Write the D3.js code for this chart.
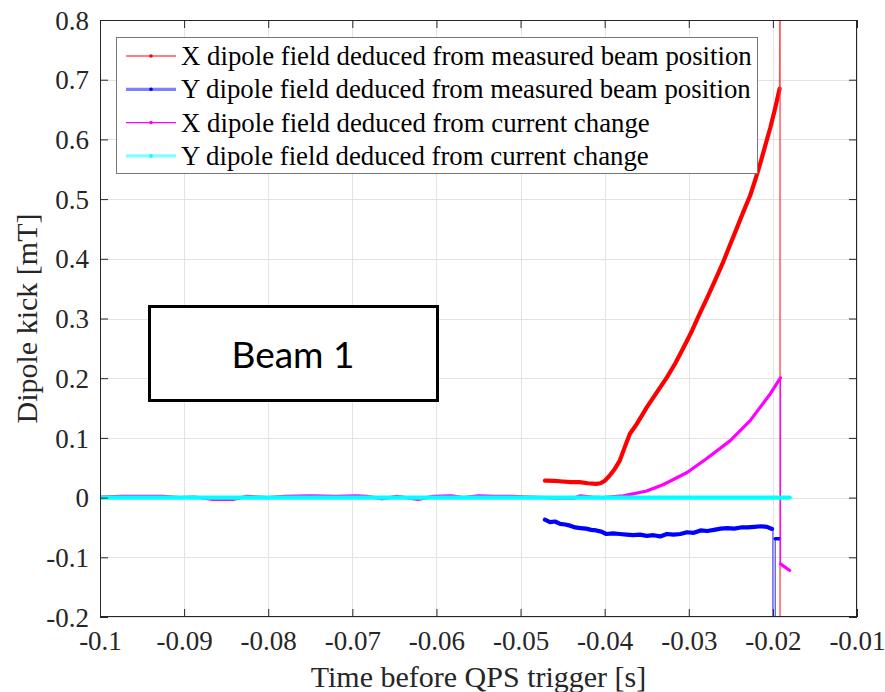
<!DOCTYPE html>
<html>
<head>
<meta charset="utf-8">
<script src="https://cdn.jsdelivr.net/npm/d3@7"></script>
<style>
  html, body { margin: 0; padding: 0; background: #fff; }
  svg { display: block; }
  text { font-family: "Liberation Serif", "Times New Roman", serif; fill: #262626; }
</style>
</head>
<body>
<svg id="chart" width="885" height="692"></svg>
<script>
// ---- axis ticks ----
const xTicks = [-0.1, -0.09, -0.08, -0.07, -0.06, -0.05, -0.04, -0.03, -0.02, -0.01];
const yTicks = [-0.2, -0.1, 0, 0.1, 0.2, 0.3, 0.4, 0.5, 0.6, 0.7, 0.8];

// ---- X dipole field from measured beam position (red) ----
const xBeamT = [-0.0471, -0.0460, -0.0450, -0.0440, -0.0430, -0.0420, -0.0410, -0.0405, -0.0400, -0.0394,
                -0.0388, -0.0382, -0.0376, -0.0370, -0.0362, -0.0356, -0.0350, -0.0340, -0.0326, -0.0316,
                -0.0306, -0.0296, -0.0287, -0.0278, -0.0269, -0.0259, -0.0251, -0.0243, -0.0235, -0.0227,
                -0.0221, -0.0215, -0.0209, -0.0203, -0.0197, -0.0192];
const xBeamV = [0.0285, 0.028, 0.027, 0.026, 0.026, 0.024, 0.023, 0.024, 0.028, 0.037,
                0.048, 0.062, 0.085, 0.107, 0.123, 0.137, 0.151, 0.172, 0.2015, 0.225,
                0.252, 0.280, 0.308, 0.335, 0.363, 0.395, 0.423, 0.451, 0.479, 0.506,
                0.532, 0.560, 0.590, 0.620, 0.654, 0.685];
// final transient of the red trace (goes off scale both ways)
const xBeamJumpT = [-0.0192, -0.01915, -0.01915];
const xBeamJumpV = [0.685, 0.95, -0.35];

// ---- Y dipole field from measured beam position (blue) ----
const yBeamT = [-0.0471, -0.0465, -0.0459, -0.0453, -0.0447, -0.0441, -0.0435, -0.0429, -0.0422, -0.0416,
                -0.0410, -0.0404, -0.0398, -0.0390, -0.0382, -0.0374, -0.0366, -0.0358, -0.0350, -0.0342,
                -0.0334, -0.0326, -0.0318, -0.0310, -0.0302, -0.0294, -0.0286, -0.0278, -0.0270, -0.0262,
                -0.0254, -0.0246, -0.0238, -0.0230, -0.0222, -0.0214, -0.0207, -0.0201];
const yBeamV = [-0.037, -0.041, -0.040, -0.044, -0.045, -0.047, -0.050, -0.051, -0.052, -0.054,
                -0.055, -0.057, -0.061, -0.060, -0.061, -0.062, -0.063, -0.062, -0.064, -0.063,
                -0.065, -0.061, -0.062, -0.061, -0.058, -0.059, -0.055, -0.056, -0.054, -0.052,
                -0.051, -0.052, -0.050, -0.050, -0.049, -0.048, -0.049, -0.0525];
const yBeamJumpT = [-0.0201, -0.0200, -0.0200, -0.01972, -0.01972];
const yBeamJumpV = [-0.0525, -0.0525, -0.35, -0.35, -0.069];
const yBeamTailT = [-0.01972, -0.0192];
const yBeamTailV = [-0.069, -0.069];

// ---- X dipole field from current change (magenta) ----
const xCurT = [-0.1000, -0.0975, -0.0950, -0.0925, -0.0905, -0.0888, -0.0866, -0.0842, -0.0825, -0.0801,
               -0.0780, -0.0750, -0.0720, -0.0695, -0.0683, -0.0664, -0.0647, -0.0622, -0.0604, -0.0582,
               -0.0568, -0.0550, -0.0530, -0.0510, -0.0490, -0.0470, -0.0455, -0.0437, -0.0429, -0.0415,
               -0.0402, -0.0378, -0.0350, -0.0330, -0.0302, -0.0279, -0.0251, -0.0227, -0.0203, -0.0191];
const xCurV = [0.001, 0.002, 0.002, 0.002, 0.000, 0.001, -0.003, -0.003, 0.002, 0.000,
               0.002, 0.003, 0.002, 0.003, 0.002, -0.002, 0.002, -0.003, 0.002, 0.003,
               0.000, 0.003, 0.002, 0.002, 0.001, 0.000, -0.001, -0.001, 0.003, 0.001,
               0.000, 0.003, 0.011, 0.022, 0.042, 0.065, 0.095, 0.129, 0.174, 0.2005];
const xCurJumpT = [-0.0191, -0.0191];
const xCurJumpV = [0.2005, -0.111];
const xCurTailT = [-0.0191, -0.0180];
const xCurTailV = [-0.111, -0.122];

// ---- Y dipole field from current change (cyan) ----
const yCurT = [-0.100, -0.090, -0.080, -0.070, -0.060, -0.050, -0.040, -0.030, -0.020, -0.018];
const yCurV = [0, 0, 0, 0, 0, 0, 0, 0, 0, 0];

const legendLabels = [
  "X dipole field deduced from measured beam position",
  "Y dipole field deduced from measured beam position",
  "X dipole field deduced from current change",
  "Y dipole field deduced from current change"
];
const annotationText = "Beam 1";

// ---- layout ----
const plot = { left: 100, right: 857, top: 20, bottom: 617 };

const svg = d3.select("#chart");
const x = d3.scaleLinear().domain([-0.1, -0.01]).range([plot.left, plot.right]);
const y = d3.scaleLinear().domain([-0.2, 0.8]).range([plot.bottom, plot.top]);

const zip = (t, v) => t.map((d, i) => [d, v[i]]);
const line = d3.line().x(d => x(d[0])).y(d => y(d[1]));

svg.append("defs").append("clipPath").attr("id", "plotClip")
  .append("rect")
  .attr("x", plot.left).attr("y", plot.top)
  .attr("width", plot.right - plot.left).attr("height", plot.bottom - plot.top);

// grid
const grid = svg.append("g").attr("stroke", "#e3e3e3").attr("stroke-width", 1);
grid.selectAll("line.gx").data(xTicks).join("line")
  .attr("x1", d => Math.round(x(d)) + 0.5).attr("x2", d => Math.round(x(d)) + 0.5)
  .attr("y1", plot.top).attr("y2", plot.bottom);
grid.selectAll("line.gy").data(yTicks).join("line")
  .attr("y1", d => Math.round(y(d)) + 0.5).attr("y2", d => Math.round(y(d)) + 0.5)
  .attr("x1", plot.left).attr("x2", plot.right);

// data
const data = svg.append("g").attr("clip-path", "url(#plotClip)").attr("fill", "none")
  .attr("stroke-linejoin", "round").attr("stroke-linecap", "round");

function trace(t, v, color, width, opacity) {
  data.append("path").datum(zip(t, v))
    .attr("d", line).attr("stroke", color).attr("stroke-width", width)
    .attr("stroke-opacity", opacity == null ? 1 : opacity);
}

// red
trace(xBeamT, xBeamV, "#ff0000", 4.2);
trace(xBeamJumpT, xBeamJumpV, "#ff3030", 1.4, 0.85);
// blue
trace(yBeamT, yBeamV, "#0000ff", 4.2);
trace(yBeamJumpT, yBeamJumpV, "#2020ff", 1.2, 0.8);
trace(yBeamTailT, yBeamTailV, "#0000ff", 3.5);
// magenta
trace(xCurT, xCurV, "#ff00ff", 3.2);
trace(xCurJumpT, xCurJumpV, "#ff00ff", 1.2);
trace(xCurTailT, xCurTailV, "#ff00ff", 3.2);
// cyan
trace(yCurT, yCurV, "#00ffff", 4.2);

// axes box
const axisColor = "#262626";
svg.append("rect")
  .attr("x", plot.left + 0.5).attr("y", plot.top + 0.5)
  .attr("width", plot.right - plot.left - 1).attr("height", plot.bottom - plot.top - 1)
  .attr("fill", "none").attr("stroke", axisColor).attr("stroke-width", 1);

// axes with inward ticks on all four sides
const tickLen = 8;
const fmt = d => String(+d.toFixed(2));
const xAxisB = d3.axisBottom(x).tickValues(xTicks).tickSizeInner(-tickLen).tickSizeOuter(0).tickFormat(fmt);
const xAxisT = d3.axisTop(x).tickValues(xTicks).tickSizeInner(-tickLen).tickSizeOuter(0).tickFormat("");
const yAxisL = d3.axisLeft(y).tickValues(yTicks).tickSizeInner(-tickLen).tickSizeOuter(0).tickFormat(fmt);
const yAxisR = d3.axisRight(y).tickValues(yTicks).tickSizeInner(-tickLen).tickSizeOuter(0).tickFormat("");

function styleAxis(g) {
  g.select(".domain").remove();
  g.selectAll(".tick line").attr("stroke", axisColor);
  g.selectAll(".tick text").attr("fill", axisColor)
    .style("font-family", '"Liberation Serif", "Times New Roman", serif')
    .style("font-size", "27px");
}

svg.append("g").attr("transform", `translate(0,${plot.bottom})`).call(xAxisB).call(styleAxis)
  .selectAll(".tick text").attr("dy", null).attr("y", 33);
svg.append("g").attr("transform", `translate(0,${plot.top})`).call(xAxisT).call(styleAxis);
svg.append("g").attr("transform", `translate(${plot.left},0)`).call(yAxisL).call(styleAxis)
  .selectAll(".tick text").attr("x", -11).attr("dy", "0.34em");
svg.append("g").attr("transform", `translate(${plot.right},0)`).call(yAxisR).call(styleAxis);

// axis titles
svg.append("text")
  .attr("x", (plot.left + plot.right) / 2).attr("y", 687)
  .attr("text-anchor", "middle").style("font-size", "30px")
  .text("Time before QPS trigger [s]");
svg.append("text")
  .attr("transform", `translate(37,${(plot.top + plot.bottom) / 2}) rotate(-90)`)
  .attr("text-anchor", "middle").style("font-size", "30px")
  .text("Dipole kick [mT]");

// legend
const legend = svg.append("g");
legend.append("rect")
  .attr("x", 116.5).attr("y", 37.5).attr("width", 641).attr("height", 136)
  .attr("fill", "#fff").attr("stroke", "#777").attr("stroke-width", 1);
const legendStyles = [
  { color: "#ff0000", width: 1.2 },
  { color: "#8080ff", width: 3.2 },
  { color: "#ff00ff", width: 1.2 },
  { color: "#80ffff", width: 3.2 }
];
const markerColors = ["#ff0000", "#0000ff", "#ff00ff", "#00ffff"];
legendLabels.forEach((label, i) => {
  const cy = 56 + i * 33.3;
  legend.append("line").attr("x1", 126).attr("x2", 176).attr("y1", cy).attr("y2", cy)
    .attr("stroke", legendStyles[i].color).attr("stroke-width", legendStyles[i].width);
  legend.append("circle").attr("cx", 151).attr("cy", cy).attr("r", 1.8)
    .attr("fill", markerColors[i]);
  legend.append("text").attr("x", 181).attr("y", cy + 9)
    .style("font-size", "26.8px").style("fill", "#000").text(label);
});

// annotation box
svg.append("rect")
  .attr("x", 149.5).attr("y", 306.5).attr("width", 288).attr("height", 94)
  .attr("fill", "#fff").attr("stroke", "#000").attr("stroke-width", 3);
svg.append("text")
  .attr("x", 293).attr("y", 368).attr("text-anchor", "middle")
  .style("font-family", "Lato, 'Open Sans', sans-serif").style("font-size", "37px").style("fill", "#000")
  .text(annotationText);
</script>
</body>
</html>
